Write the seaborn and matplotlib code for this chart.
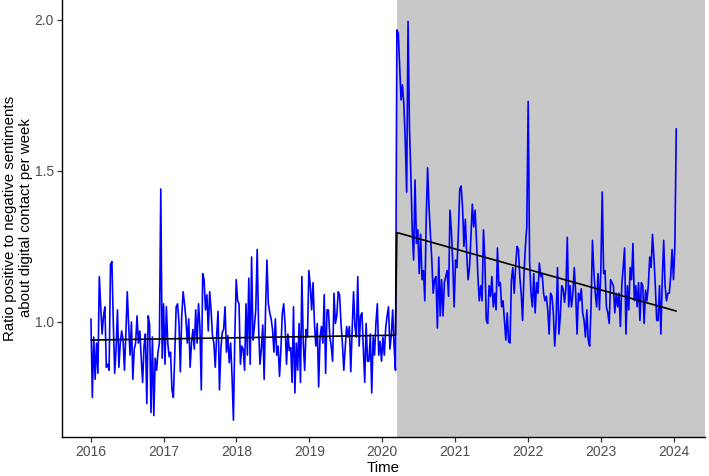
import matplotlib
matplotlib.use("Agg")
import matplotlib.pyplot as plt
import seaborn as sns
import pandas as pd

# ---------------- data ----------------
pre_start = "2016-01-03"      # first weekly observation
post_start = "2020-03-15"     # first week of the post (shaded) period

ratio_2016 = [1.01, 0.75, 0.95, 0.81, 0.93, 0.83, 1.15, 1.05, 0.96, 1.02, 1.05, 0.85, 0.86,
              0.84, 1.19, 1.20, 1.00, 0.83, 0.91, 1.04, 0.85, 0.93, 0.97, 0.94, 0.84, 0.96,
              1.10, 0.99, 0.89, 1.00, 0.81, 0.91, 0.93, 1.02, 0.93, 0.97, 0.88, 0.80, 0.92,
              0.96, 0.73, 1.02, 0.99, 0.70, 0.95, 0.69, 0.88, 0.84, 0.90, 0.93, 1.44, 0.88]
ratio_2017 = [1.06, 0.86, 1.05, 0.93, 0.885, 0.90, 0.775, 0.75, 0.89, 1.05, 1.06, 1.00, 0.835,
              1.02, 1.10, 1.06, 1.01, 0.93, 1.01, 0.85, 0.93, 0.975, 0.91, 1.04, 0.93, 1.06,
              0.985, 0.775, 1.16, 1.14, 1.04, 1.09, 0.97, 1.10, 1.04, 0.955, 0.93, 0.85, 0.955,
              1.035, 0.775, 0.91, 0.965, 0.975, 1.05, 0.90, 0.955, 0.865, 0.93, 0.82, 0.675, 0.955]
ratio_2018 = [1.14, 1.07, 1.06, 0.86, 0.92, 0.91, 0.84, 1.06, 0.89, 1.145, 0.86, 1.215, 0.94,
              0.985, 1.04, 1.24, 0.985, 0.86, 0.91, 0.99, 0.81, 1.04, 1.205, 1.06, 1.03, 1.01,
              0.975, 0.90, 1.01, 0.89, 0.92, 0.82, 0.91, 1.03, 1.06, 0.99, 0.86, 0.96, 0.905,
              0.915, 0.80, 1.05, 0.765, 0.93, 0.84, 0.995, 0.80, 1.15, 0.93, 0.84, 0.975, 0.95]
ratio_2019 = [1.17, 1.12, 1.04, 1.13, 0.995, 0.92, 0.995, 0.785, 0.95, 0.985, 0.93, 1.09, 0.83,
              1.04, 1.04, 0.95, 0.92, 0.87, 1.095, 0.995, 1.02, 1.10, 1.09, 0.995, 0.93, 0.84,
              0.91, 0.985, 0.95, 0.985, 0.835, 0.975, 1.10, 0.985, 0.95, 1.15, 0.92, 1.02, 1.03,
              0.91, 0.80, 0.995, 0.87, 0.87, 0.96, 0.765, 0.95, 0.89, 0.995, 1.06, 0.89, 0.935]
ratio_2020_pre = [0.87, 0.95, 0.89, 0.98, 1.02, 1.05, 0.91, 0.955, 1.04, 0.92, 0.84]

ratio_post_a = [1.967, 1.956, 1.845, 1.735, 1.785, 1.72, 1.60, 1.43, 1.995, 1.645, 1.49, 1.305,
                1.205, 1.47, 1.26, 1.305, 1.16, 1.29, 1.14, 1.17, 1.07, 1.34, 1.51, 1.38, 1.29,
                1.205, 1.095, 1.14, 1.15, 0.98, 1.215, 1.02, 1.14, 1.02, 1.13, 1.15, 1.17, 1.085,
                1.37, 1.305, 1.195, 1.05, 1.205, 1.18, 1.29, 1.44, 1.45, 1.38, 1.25, 1.34, 1.225,
                1.14, 1.18, 1.28, 1.39, 1.315, 1.37, 1.27, 1.15, 1.07, 1.12, 1.07, 1.305, 1.205,
                1.005]
ratio_post_b = [0.995, 1.12, 1.085, 1.15, 1.05, 1.095, 1.04, 1.245, 1.12, 1.13, 1.05, 1.07, 1.005,
                0.94, 1.03, 0.935, 0.93, 1.14, 1.18, 1.095, 1.18, 1.25, 1.24, 1.15, 1.095, 1.005,
                1.16, 1.25, 1.315, 1.73, 1.205, 1.095, 1.05, 1.16, 1.03, 1.13, 1.095, 1.195, 1.15,
                1.16, 1.095, 1.07, 1.085, 1.04, 0.96, 1.095, 1.085, 1.03, 0.92, 1.005, 1.18, 0.96,
                1.02, 1.12, 1.11, 1.065, 1.11, 1.28, 1.05, 1.12, 1.05, 1.095, 1.18, 1.095, 0.96,
                1.095, 1.07, 1.11, 1.03, 1.005, 0.95, 1.04, 0.94, 0.92, 1.05, 1.27, 1.17, 1.095,
                1.05]
ratio_post_c = [1.16, 1.04, 1.17, 1.43, 1.16, 1.17, 1.05, 1.03, 0.995, 1.14, 1.13, 1.12, 1.03,
                1.095, 1.05, 1.095, 0.985, 1.12, 1.18, 1.245, 0.96, 1.12, 1.04, 1.18, 1.14, 1.26,
                1.07, 1.12, 1.05, 1.13, 1.005, 1.13, 1.12, 0.995, 1.105, 1.07, 1.12, 1.215, 1.18,
                1.29, 1.215, 1.12, 1.005, 1.005, 1.12, 0.96, 1.14, 1.27, 1.12, 1.07, 1.095, 1.095,
                1.15, 1.24, 1.14, 1.25, 1.64]

# fitted segmented-regression values (start/end of each segment)
trend_dates = ["2016-01-03", "2020-03-08", "2020-03-15", "2024-01-14"]
trend_values = [0.940, 0.956, 1.296, 1.036]

year_ticks = [2016, 2017, 2018, 2019, 2020, 2021, 2022, 2023, 2024]
y_ticks = [1.0, 1.5, 2.0]
y_tick_labels = ["1.0", "1.5", "2.0"]

x_title = "Time"
y_title = "Ratio positive to negative sentiments\nabout digital contact per week"

# ---------------- frames ----------------
pre_vals = ratio_2016 + ratio_2017 + ratio_2018 + ratio_2019 + ratio_2020_pre
post_vals = ratio_post_a + ratio_post_b + ratio_post_c
pre_df = pd.DataFrame({"date": pd.date_range(pre_start, periods=len(pre_vals), freq="7D"),
                       "ratio": pre_vals})
post_df = pd.DataFrame({"date": pd.date_range(post_start, periods=len(post_vals), freq="7D"),
                        "ratio": post_vals})
df = pd.concat([pre_df, post_df], ignore_index=True)
trend_df = pd.DataFrame({"date": pd.to_datetime(trend_dates), "fit": trend_values})

# ---------------- plot ----------------
sns.set_theme(style="ticks")
plt.rcParams["font.family"] = ["Liberation Sans", "DejaVu Sans"]

fig = plt.figure(figsize=(7.09, 4.76), dpi=100)
ax = fig.add_axes([62 / 709, 39 / 476, 643 / 709, 437 / 476])

x_lo = pd.Timestamp("2015-08-11")
x_hi = pd.Timestamp("2024-06-06")
ax.axvspan(pd.Timestamp(post_start), x_hi, color="#c8c8c8", lw=0, zorder=0)

sns.lineplot(data=df, x="date", y="ratio", color="#0000ff", lw=1.2, ax=ax, zorder=2)
sns.lineplot(data=trend_df, x="date", y="fit", color="black", lw=1.2, ax=ax, zorder=3)

ax.set_xlim(x_lo, x_hi)
ax.set_ylim(0.619, 2.066)
ax.set_xticks([pd.Timestamp(f"{y}-01-01") for y in year_ticks])
ax.set_xticklabels([str(y) for y in year_ticks])
ax.set_yticks(y_ticks)
ax.set_yticklabels(y_tick_labels)

for s in ["top", "right"]:
    ax.spines[s].set_visible(False)
for s in ["left", "bottom"]:
    ax.spines[s].set_color("black")
    ax.spines[s].set_linewidth(1.0)

ax.tick_params(axis="both", direction="out", length=3.5, width=0.9, color="#333333",
               labelcolor="#4d4d4d", labelsize=10, pad=2.5)
ax.set_xlabel(x_title, fontsize=10.8, color="black", labelpad=1)
ax.set_ylabel("")
fig.text(18 / 709, 1 - 218 / 476, y_title, rotation=90, ha="center", va="center",
         multialignment="center", fontsize=10.8, color="black", linespacing=1.1)
ax.grid(False)
ax.set_facecolor("white")

fig.savefig("out.png", dpi=100)
